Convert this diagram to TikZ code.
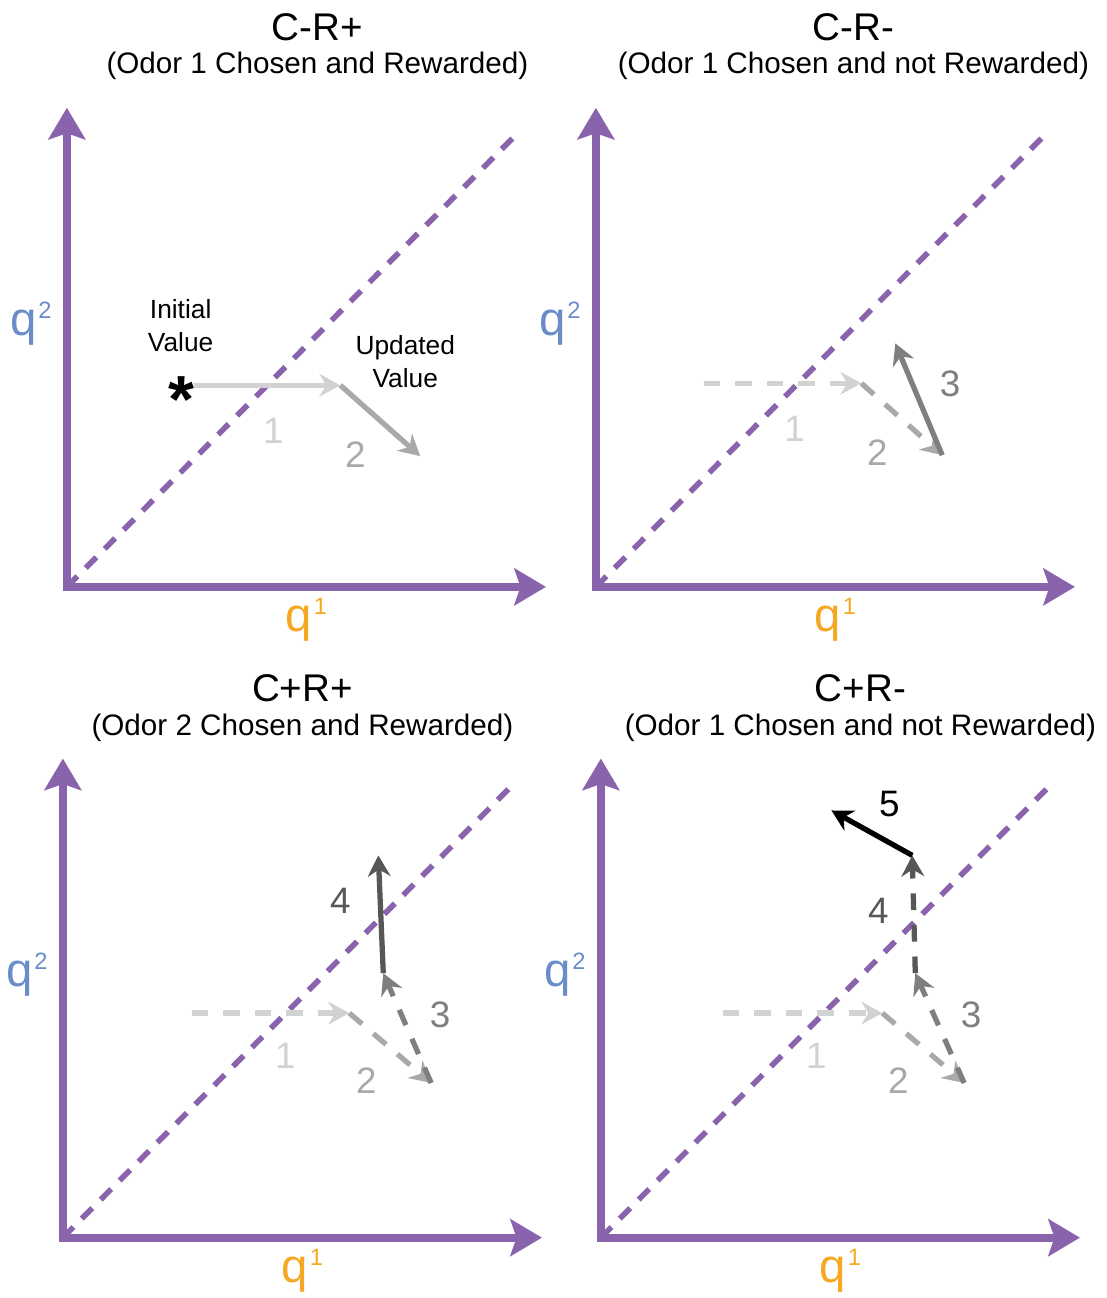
\documentclass[tikz,border=0pt]{standalone}
\usepackage{fontspec}
\setmainfont{Liberation Sans}
\usepackage{tikz}
\usetikzlibrary{arrows.meta}
\definecolor{axisviolet}{HTML}{8A63AD}
\definecolor{qblue}     {HTML}{6A8DCA}
\definecolor{qorange}   {HTML}{F7A823}
\definecolor{stepone}   {HTML}{D2D2D2}
\definecolor{steptwo}   {HTML}{A9A9A9}
\definecolor{stepthree} {HTML}{7F7F7F}
\definecolor{stepfour}  {HTML}{575757}
\newcommand{\qexp}[1]{\hspace{1pt}\raisebox{9.7pt}{\fontsize{13.5}{13.5}\selectfont #1}}

\begin{document}
\begin{tikzpicture}[x=0.02cm, y=-0.02cm,
    axis/.style={draw=axisviolet, line width=4.5pt, line join=miter,
      {Stealth[length=18pt, width=21pt, inset=3.5pt]}-{Stealth[length=18pt, width=21pt, inset=3.5pt]}},
    diagonal/.style={draw=axisviolet, line width=3.2pt, dash pattern=on 8.5pt off 6.8pt},
    stepline/.style={line width=3pt, -{Stealth[length=12pt, width=13pt, inset=4pt]}},
    ghost/.style={dash pattern=on 9.5pt off 8.5pt},
    paneltitle/.style={font=\fontsize{22}{26}\selectfont},
    panelsub/.style={font=\fontsize{16.9}{20}\selectfont},
    axislabel/.style={font=\fontsize{27}{30}\selectfont},
    steplabel/.style={font=\fontsize{21}{21}\selectfont},
    note/.style={align=center, font=\fontsize{15}{19}\selectfont}]

    % the four frames: axes, diagonal, titles
    \foreach \ox/\oy/\tx/\ty/\head/\sub [count=\i] in {%
      67/588/318/27/C-R+/{(Odor 1 Chosen and Rewarded)},
      597/588/855/27/C-R-/{(Odor 1 Chosen and not Rewarded)},
      63/1240/303/690/C+R+/{(Odor 2 Chosen and Rewarded)},
      602/1240/862/690/C+R-/{(Odor 1 Chosen and not Rewarded)}}
      {\coordinate (o\i) at (\ox,\oy);
       \coordinate (ytip\i) at (\ox,\oy-480);
       \coordinate (xtip\i) at (\ox+480,\oy);
       \draw[diagonal] (o\i) -- ++(452,-455);
       \draw[axis] (ytip\i) -- (o\i) -- (xtip\i);
       \node[paneltitle] (title\i) at (\tx,\ty) {\head};
       \node[panelsub] (sub\i) at (\tx,\ty+39) {\sub};
       \node[axislabel, text=qblue] (qtwo\i) at (\ox-36,\oy-264) {q\qexp{2}};
       \node[axislabel, text=qorange] (qone\i) at (\ox+240,\oy+33) {q\qexp{1}};}

    % C-R+
    \node[anchor=base, font=\fontsize{38}{38}\bfseries] (star) at (182,423) {*};
    \coordinate (p1a) at (194,386);
    \coordinate (p1b) at (341,386);
    \coordinate (p1c) at (421,457);
    \draw[stepline, stepone] (p1a) -- (p1b);
    \draw[stepline, steptwo] (p1b) -- (p1c);
    \node[steplabel, text=stepone] (one1) at (274,432) {1};
    \node[steplabel, text=steptwo] (two1) at (356,456) {2};
    \node[note] (initial) at (181,326) {Initial\\Value};
    \node[note] (updated) at (406,362) {Updated\\Value};

    % C-R-
    \coordinate (p2a) at (705,384);
    \coordinate (p2b) at (863,384);
    \coordinate (p2c) at (944,456);
    \coordinate (p2d) at (897,344);
    \draw[stepline, ghost, stepone] (p2a) -- (p2b);
    \draw[stepline, ghost, steptwo] (p2b) -- (p2c);
    \draw[stepline, stepthree] (p2c) -- (p2d);
    \node[steplabel, text=stepone] (one2) at (796,430) {1};
    \node[steplabel, text=steptwo] (two2) at (879,454) {2};
    \node[steplabel, text=stepthree] (three2) at (952,385) {3};

    % C+R+
    \coordinate (p3a) at (192,1015);
    \coordinate (p3b) at (350,1015);
    \coordinate (p3c) at (432,1085);
    \coordinate (p3d) at (384,975);
    \coordinate (p3e) at (379,857);
    \draw[stepline, ghost, stepone] (p3a) -- (p3b);
    \draw[stepline, ghost, steptwo] (p3b) -- (p3c);
    \draw[stepline, ghost, stepthree] (p3c) -- (p3d);
    \draw[stepline, stepfour] (p3d) -- (p3e);
    \node[steplabel, text=stepone] (one3) at (286,1058) {1};
    \node[steplabel, text=steptwo] (two3) at (367,1083) {2};
    \node[steplabel, text=stepthree] (three3) at (441,1017) {3};
    \node[steplabel, text=stepfour] (four3) at (341,903) {4};

    % C+R-
    \coordinate (p4a) at (724,1015);
    \coordinate (p4b) at (884,1015);
    \coordinate (p4c) at (966,1085);
    \coordinate (p4d) at (917,975);
    \coordinate (p4e) at (914,857);
    \coordinate (p4f) at (833,812);
    \draw[stepline, ghost, stepone] (p4a) -- (p4b);
    \draw[stepline, ghost, steptwo] (p4b) -- (p4c);
    \draw[stepline, ghost, stepthree] (p4c) -- (p4d);
    \draw[stepline, ghost, stepfour] (p4d) -- (p4e);
    \draw[stepline, black] (p4e) -- (p4f);
    \node[steplabel, text=stepone] (one4) at (818,1058) {1};
    \node[steplabel, text=steptwo] (two4) at (900,1083) {2};
    \node[steplabel, text=stepthree] (three4) at (973,1017) {3};
    \node[steplabel, text=stepfour] (four4) at (880,913) {4};
    \node[steplabel] (five4) at (891,806) {5};

    \useasboundingbox (0,0) rectangle (1109,1298);
  \end{tikzpicture}
\end{document}
